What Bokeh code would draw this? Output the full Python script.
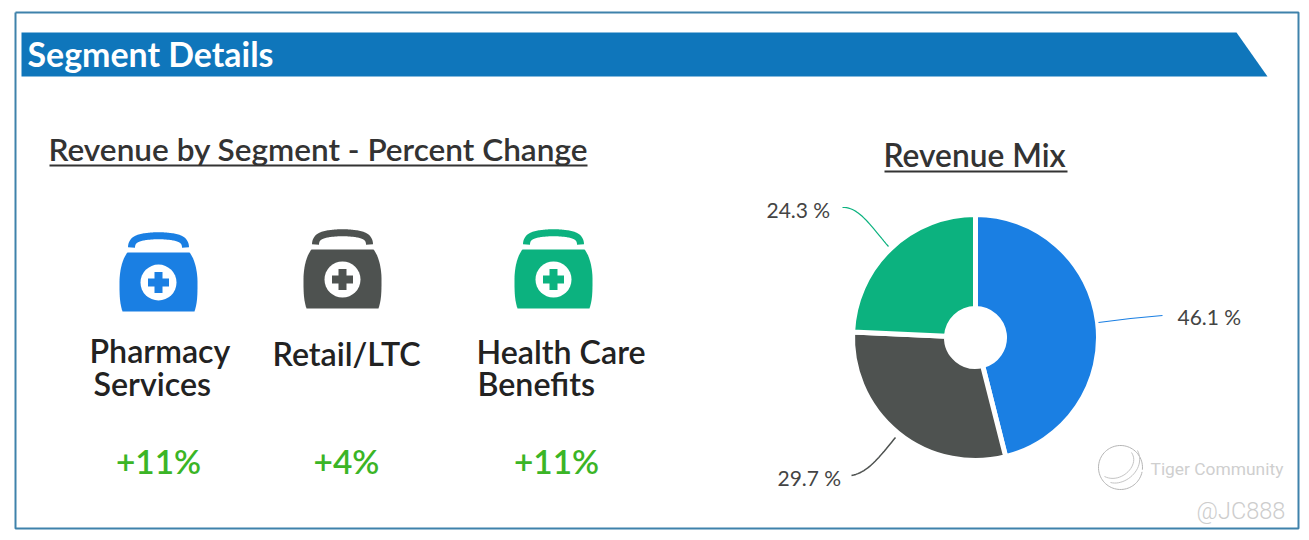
from bokeh.plotting import figure
from bokeh.models import Range1d
from bokeh.core.properties import value
from bokeh.embed import file_html
from bokeh.resources import INLINE
import numpy as np

# ---- data ----
mix_labels = ["46.1 %", "29.7 %", "24.3 %"]
mix_values = [46.1, 29.7, 24.3]
mix_colors = ["#1a7fe3", "#4e5250", "#0cb27f"]
segments_line1 = ["Pharmacy", "Retail/LTC", "Health Care"]
segments_line2 = ["Services", "", "Benefits"]
segment_changes = ["+11%", "+4%", "+11%"]
segment_colors = ["#1a7fe3", "#4e5250", "#0cb27f"]

W, H = 1305, 535
p = figure(width=W, height=H, output_backend="svg", toolbar_location=None,
           x_range=Range1d(0, W), y_range=Range1d(540 - H, 540),
           x_axis_type="linear", min_border=0)
p.axis.visible = False
p.grid.visible = False
p.outline_line_color = None
p.background_fill_color = "white"
p.border_fill_color = "white"


def Y(y):
    return 540 - np.asarray(y, dtype=float)


def T(x, y, s, size, color="#333333", font="Lato", style="normal", align="left", alpha=1.0):
    p.text([x], [Y(y - 2)], text=[s], text_font=value(font), text_font_size=f"{size}px",
           text_font_style=style, text_color=color, text_align=align,
           text_baseline="middle", text_alpha=alpha)


def bez(p0, p1, p2, p3, n=24):
    t = np.linspace(0, 1, n)[:, None]
    a, b, c, d = map(np.array, (p0, p1, p2, p3))
    return (1 - t) ** 3 * a + 3 * (1 - t) ** 2 * t * b + 3 * (1 - t) * t ** 2 * c + t ** 3 * d


# frame
p.line([15, 1298, 1298, 15, 15], Y([12, 12, 528, 528, 12]), line_color="#3f82ab", line_width=2)

# banner
p.patch([21, 1236, 1267, 21], Y([32, 32, 76, 76]), fill_color="#0f76bb", line_color=None)
T(27, 55, "Segment Details", 33.9, color="white", font="Lato", style="bold")

# headings
T(48, 150, "Revenue by Segment - Percent Change", 31.55, color="#333333", font="Lato Semibold")
p.line([49, 587], Y([165, 165]), line_color="#333333", line_width=2)
T(883, 156, "Revenue Mix", 31.7, color="#333333", font="Lato Semibold")
p.line([884, 1067], Y([171, 171]), line_color="#333333", line_width=2)


# icons
def icon(cx, top, color):
    left = np.vstack([bez((-31, 0), (-36, 6), (-39, 18), (-39, 30)),
                      bez((-39, 30), (-39, 42), (-39, 50), (-36, 59))])
    right = left[::-1] * np.array([-1, 1])
    pts = np.vstack([left, right])
    p.patch(cx + pts[:, 0], Y(top + pts[:, 1]), fill_color=color, line_color=None)
    h = np.vstack([bez((-27, -5), (-27, -13), (-20, -15), (-12, -16)),
                   bez((-12, -16), (-4, -17), (4, -17), (12, -16)),
                   bez((12, -16), (20, -15), (27, -13), (27, -5))])
    p.line(cx + h[:, 0], Y(top + h[:, 1]), line_color=color, line_width=7, line_cap="butt")
    p.circle([cx], Y([top + 30]), radius=18, fill_color="white", line_color=None)
    p.rect([cx, cx], Y([top + 30, top + 30]), width=[21, 8], height=[8, 21], fill_color=color, line_color=None)


icon_cx = [158, 342, 553]
icon_top = [252, 249, 249]
label_x = [89, 272, 476]
label_y1 = [352, 355, 353]
label_y2 = [385, 0, 385]
label2_x = [93, 0, 477]
change_x = [158, 346, 556]
for i in range(3):
    icon(icon_cx[i], icon_top[i], segment_colors[i])
    T(label_x[i], label_y1[i], segments_line1[i], 32.2, color="#222222", font="Lato Semibold")
    if segments_line2[i]:
        T(label2_x[i], label_y2[i], segments_line2[i], 32.2, color="#222222", font="Lato Semibold")
    T(change_x[i], 462, segment_changes[i], 33.4, color="#3bb526", align="center", font="Lato Semibold")

# donut
cx, cy, R, r = 975, 337, 123, 29
vals = np.array(mix_values)
ends = np.cumsum(vals) / vals.sum() * 2 * np.pi
starts = np.r_[0, ends[:-1]]
p.annular_wedge(x=[cx] * 3, y=[Y(cy)] * 3, inner_radius=r, outer_radius=R,
                start_angle=np.pi / 2 - starts, end_angle=np.pi / 2 - ends, direction="clock",
                fill_color=mix_colors, line_color="white", line_width=5)
p.circle([cx], [Y(cy)], radius=r, fill_color="white", line_color=None)

# leader lines and labels
p.line([1098, 1130, 1162], Y([322, 318, 315]), line_color="#1a7fe3", line_width=1.2)
T(1177, 318, mix_labels[0], 21, color="#444444")
l = bez((895, 437), (880, 455), (868, 472), (851, 475))
p.line(l[:, 0], Y(l[:, 1]), line_color="#4e5250", line_width=1.5)
T(777, 479, mix_labels[1], 21, color="#444444")
l = bez((888, 246), (870, 225), (858, 206), (842, 207))
p.line(l[:, 0], Y(l[:, 1]), line_color="#0cb27f", line_width=1.2)
T(766, 211, mix_labels[2], 21, color="#444444")

# watermark
t = np.linspace(0.2, 2 * np.pi + 0.1, 80)
p.line(1120 + 22 * np.cos(t), Y(467 + 22 * np.sin(t)), line_color="#b5b5b5", line_width=1)
l = bez((1104, 476), (1120, 484), (1140, 465), (1131, 452))
p.line(l[:, 0], Y(l[:, 1]), line_color="#c4c4c4", line_width=1)
l = bez((1110, 482), (1125, 486), (1146, 468), (1137, 450))
p.line(l[:, 0], Y(l[:, 1]), line_color="#c4c4c4", line_width=1)
T(1150, 470, "Tiger Community", 17.4, color="#cfcfcf", font="Roboto")
T(1196, 512, "@JC888", 23.5, color="#cdcdcd", font="Roboto Light")

open("out.html", "w").write(file_html(p, INLINE))
